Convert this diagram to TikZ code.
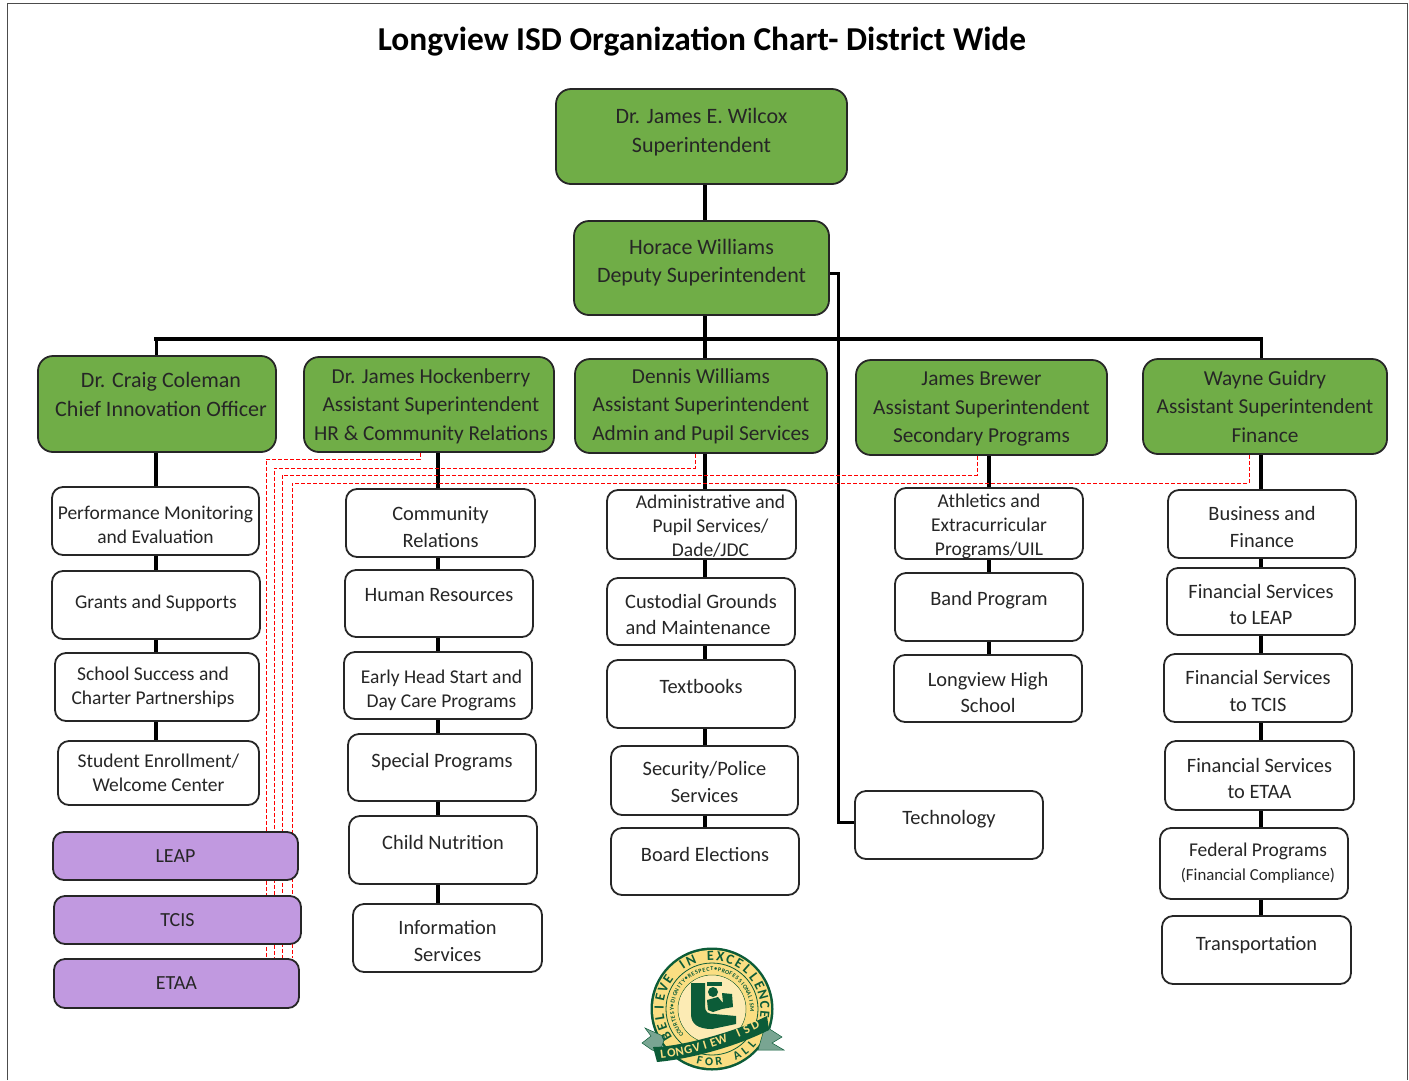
\documentclass[tikz,border=0pt]{standalone}
\usepackage{fontspec}
\setmainfont{Carlito}
\usetikzlibrary{backgrounds}
\definecolor{chiefgreen}{RGB}{112,173,71}
\definecolor{campuspurple}{RGB}{193,153,224}
\definecolor{sealgreen}{RGB}{12,92,56}
\definecolor{sealgold}{RGB}{250,222,130}
\newcommand{\up}[1]{\rule[-#1]{0pt}{0pt}}
\newcommand{\dn}[1]{\rule{0pt}{#1}}
\tikzset{
	orgbox/.style={draw=black!85,line width=1.8pt,rounded corners=11pt,align=center,inner sep=0pt,text=black!85},
	chief/.style={orgbox,fill=chiefgreen,rounded corners=15pt,font=\fontsize{22}{28.5}\selectfont},
	assistant/.style={chief,font=\fontsize{21.3}{28.5}\selectfont},
	dept/.style={orgbox,fill=white,font=\fontsize{20.4}{26.5}\selectfont},
	deptsmall/.style={orgbox,fill=white,font=\fontsize{19.5}{24}\selectfont},
	campus/.style={orgbox,fill=campuspurple,font=\fontsize{20}{26}\selectfont},
	trunk/.style={line width=4.5pt,black},
	drop/.style={line width=3pt,black},
	dotline/.style={red,dash pattern=on 4pt off 2pt,line width=0.9pt},
	sealletter/.style={inner sep=0pt,font=\fontsize{#1}{#1}\selectfont\bfseries},
}
\begin{document}
\begin{tikzpicture}[x=1pt,y=-1pt]
	\useasboundingbox (0,0) rectangle (1409,1080);
	% page frame
	\draw[black!70,line width=1pt] (7,1080) -- (7,3) -- (1407,3) -- (1407,1080);
	% title
	\node[font=\fontsize{33.4}{36}\selectfont\bfseries] (title) at (702,42) {Longview ISD Organization Chart- District Wide};
	% top of the district
	\node[chief,minimum width=291pt,minimum height=95pt] (wilcox) at (701.5,136.5) {Dr. James E. Wilcox\\Superintendent\up{12.5pt}};
	\node[chief,minimum width=255pt,minimum height=94pt] (horace) at (701.5,268) {Horace Williams\\Deputy Superintendent\up{14.5pt}};
	% assistant superintendents
	\node[chief,minimum width=238pt,minimum height=96pt] (coleman) at (157,404) {\hspace*{8pt}Dr. Craig Coleman\\\hspace*{8pt}Chief Innovation Officer\up{19pt}};
	\node[assistant,minimum width=250pt,minimum height=95pt] (hockenberry) at (429,404.5) {\hspace*{4pt}\dn{18pt}Dr. James Hockenberry\\\hspace*{4pt}Assistant Superintendent\\\hspace*{4pt}HR \& Community Relations};
	\node[assistant,minimum width=252pt,minimum height=94pt] (dennis) at (701,406) {Dennis Williams\\Assistant Superintendent\\Admin and Pupil Services};
	\node[assistant,minimum width=251pt,minimum height=95pt] (brewer) at (981.5,407.5) {\dn{17pt}James Brewer\\Assistant Superintendent\\Secondary Programs};
	\node[assistant,minimum width=244pt,minimum height=95pt] (guidry) at (1265,406.5) {Wayne Guidry\\Assistant Superintendent\\Finance};
	% first column
	\node[deptsmall,minimum width=207pt,minimum height=68pt] (perf) at (155.5,521) {\dn{21.5pt}Performance Monitoring\\and Evaluation};
	\node[deptsmall,minimum width=208pt,minimum height=68pt] (grants) at (156,605) {Grants and Supports\up{7pt}};
	\node[deptsmall,minimum width=204pt,minimum height=68pt] (success) at (157,687) {School Success and\hspace*{8pt}\\Charter Partnerships\hspace*{8pt}};
	\node[deptsmall,minimum width=201pt,minimum height=64pt] (enroll) at (158.5,773) {Student Enrollment/\\Welcome Center};
	\node[campus,minimum width=245pt,minimum height=48pt] (leap) at (175.5,856) {LEAP};
	\node[campus,minimum width=247pt,minimum height=48pt] (tcis) at (177.5,920) {TCIS};
	\node[campus,minimum width=245pt,minimum height=49pt] (etaa) at (176.5,983.5) {ETAA};
	% second column
	\node[dept,minimum width=189pt,minimum height=68pt] (community) at (440.5,523) {\dn{22pt}Community\\Relations};
	\node[dept,minimum width=188pt,minimum height=67pt] (hr) at (439,603.5) {Human Resources\up{17pt}};
	\node[deptsmall,minimum width=188pt,minimum height=67pt] (headstart) at (438,685.5) {\hspace*{7pt}\dn{23.5pt}Early Head Start and\\\hspace*{7pt}Day Care Programs};
	\node[dept,minimum width=188pt,minimum height=67pt] (special) at (442,767.5) {Special Programs\up{15pt}};
	\node[dept,minimum width=188pt,minimum height=68pt] (nutrition) at (443,850) {Child Nutrition\up{16pt}};
	\node[dept,minimum width=189pt,minimum height=68pt] (infoserv) at (447.5,938) {\dn{20pt}Information\\Services};
	% third column
	\node[deptsmall,minimum width=189pt,minimum height=69pt] (admin) at (701.5,524.5) {\hspace*{18pt}\dn{17.5pt}Administrative and\\\hspace*{18pt}Pupil Services/\\\hspace*{18pt}Dade/JDC};
	\node[dept,minimum width=188pt,minimum height=67pt] (grounds) at (701,611.5) {\dn{20pt}Custodial Grounds\\and Maintenance\hspace*{6pt}};
	\node[dept,minimum width=188pt,minimum height=68pt] (textbooks) at (701,694) {Textbooks\up{16pt}};
	\node[dept,minimum width=187pt,minimum height=69pt] (police) at (704.5,780.5) {\dn{17pt}Security/Police\\Services};
	\node[dept,minimum width=188pt,minimum height=67pt] (elections) at (705,861.5) {Board Elections\up{15pt}};
	% fourth column
	\node[deptsmall,minimum width=188pt,minimum height=71pt] (athletics) at (989,523.5) {\dn{19.5pt}Athletics and\\Extracurricular\\Programs/UIL};
	\node[dept,minimum width=188pt,minimum height=68pt] (band) at (989,607) {Band Program\up{17pt}};
	\node[dept,minimum width=188pt,minimum height=67pt] (highschool) at (988,688.5) {\dn{22pt}Longview High\\School};
	\node[dept,minimum width=188pt,minimum height=68pt] (technology) at (949,825) {Technology\up{16pt}};
	% fifth column
	\node[dept,minimum width=188pt,minimum height=68pt] (business) at (1262,524) {\dn{20pt}Business and\\Finance};
	\node[dept,minimum width=188pt,minimum height=67pt] (finleap) at (1261,601.5) {\dn{20pt}Financial Services\\to LEAP};
	\node[dept,minimum width=188pt,minimum height=68pt] (fintcis) at (1258,688) {\dn{20pt}Financial Services\\to TCIS};
	\node[dept,minimum width=189pt,minimum height=69pt] (finetaa) at (1259.5,775.5) {\dn{20pt}Financial Services\\to ETAA};
	\node[deptsmall,minimum width=188pt,minimum height=71pt] (federal) at (1254,863.5) {\hspace*{8pt}Federal Programs\\\hspace*{8pt}{\fontsize{16.8}{24}\selectfont (Financial Compliance)}};
	\node[dept,minimum width=189pt,minimum height=68pt] (transport) at (1256.5,950) {Transportation\up{14pt}};
	% where the trunks run
	\coordinate (trunkA) at (156,339);
	\coordinate (trunkB) at (438,339);
	\coordinate (trunkC) at (705,339);
	\coordinate (trunkD) at (989,339);
	\coordinate (trunkE) at (1261,339);
	\coordinate (techtop) at (838,273);
	\coordinate (techfoot) at (838,822);
	\coordinate (dotA) at (266,459);
	\coordinate (dotB) at (274,468);
	\coordinate (dotC) at (282,475);
	\coordinate (dotD) at (292,483);
	\coordinate (startA) at (420,459);
	\coordinate (startB) at (695,468);
	\coordinate (startC) at (977,475);
	\coordinate (startD) at (1249,483);
	\begin{pgfonlayer}{background}
		% black lines
		\draw[trunk] (wilcox.south -| trunkC) -- (horace.north -| trunkC);
		\draw[trunk] (horace.south -| trunkC) -- (dennis.north -| trunkC);
		\draw[trunk,line cap=rect] (trunkA) -- (trunkE);
		\draw[drop] (coleman.north -| trunkA) -- (trunkA);
		\draw[drop] (guidry.north -| trunkE) -- (trunkE);
		\foreach \a/\b in {coleman/perf,perf/grants,grants/success,success/enroll}
			\draw[trunk] (\a.south -| trunkA) -- (\b.north -| trunkA);
		\foreach \a/\b in {hockenberry/community,community/hr,hr/headstart,headstart/special,special/nutrition,nutrition/infoserv}
			\draw[trunk] (\a.south -| trunkB) -- (\b.north -| trunkB);
		\foreach \a/\b in {dennis/admin,admin/grounds,grounds/textbooks,textbooks/police,police/elections}
			\draw[trunk] (\a.south -| trunkC) -- (\b.north -| trunkC);
		\foreach \a/\b in {brewer/athletics,athletics/band,band/highschool}
			\draw[trunk] (\a.south -| trunkD) -- (\b.north -| trunkD);
		\foreach \a/\b in {guidry/business,business/finleap,finleap/fintcis,fintcis/finetaa,finetaa/federal,federal/transport}
			\draw[trunk] (\a.south -| trunkE) -- (\b.north -| trunkE);
		\draw[drop] (techtop -| horace.east) -- (techtop) -- (techfoot) -- (techfoot -| technology.west);
		% red dashed lines
		\draw[dotline] (hockenberry.south -| startA) -- (startA) -- (dotA) -- (etaa.north -| dotA);
		\draw[dotline] (dennis.south -| startB) -- (startB) -- (dotB) -- (etaa.north -| dotB);
		\draw[dotline] (brewer.south -| startC) -- (startC) -- (dotC) -- (etaa.north -| dotC);
		\draw[dotline] (guidry.south -| startD) -- (startD) -- (dotD) -- (etaa.north -| dotD);
	\end{pgfonlayer}
	% seal
	\fill[sealgreen] (712,1009) circle (61.5);
	\fill[sealgold] (712,1009) circle (59);
	\draw[sealgreen,line width=0.8pt] (712,1009) circle (46);
	\draw[sealgreen,line width=0.5pt] (712,1009) circle (34);
	\fill[white!40!sealgold] (712,1009) circle (33.5);
	\fill[sealgreen] (691,983) -- (705,983) -- (705,1006) .. controls (705,1012) and (708,1014) .. (714,1014) -- (736,1016) -- (736,1024) -- (712,1029) .. controls (698,1029) and (691,1024) .. (691,1014) -- cycle;
	\fill[sealgreen] (707,982) -- (722,982) -- (722,986) -- (707,986) -- cycle;
	\fill[sealgreen] (713,992) circle (5);
	\fill[sealgreen] (707,1000) -- (718,997) -- (723,1003) -- (722,993) -- (732,994) -- (733,1007) -- (722,1009) -- (713,1012) -- (708,1010) -- cycle;
	\fill[sealgreen!55!white,draw=sealgreen,line width=0.5pt] (645,1028) -- (665,1037) -- (660,1052) -- (652,1050) -- (642,1043) -- (651,1036) -- cycle;
	\fill[sealgreen!55!white,draw=sealgreen,line width=0.5pt] (765,1026) -- (782,1037) -- (772,1043) -- (784,1050) -- (758,1050) -- cycle;
	\fill[sealgreen] (653,1047) .. controls (680,1047) and (735,1032) .. (767,1016) -- (769,1030) .. controls (735,1047) and (690,1059) .. (657,1062) -- cycle;
	% seal lettering
	\foreach \ch [count=\i] in {B,E,L,I,E,V,E,{ },I,N,{ },E,X,C,E,L,L,E,N,C,E}
		\node[sealletter=14,text=sealgreen,rotate={131.85-10.85*\i}] (sealtop\i) at ({712+53*cos(221.85-10.85*\i)},{1009-53*sin(221.85-10.85*\i)}) {\ch};
	\foreach \ch [count=\i] in {C,O,U,R,T,E,S,Y,•,D,I,G,N,I,T,Y,•,R,E,S,P,E,C,T,•,P,R,O,F,E,S,S,I,O,N,A,L,I,S,M}
		\node[sealletter=6,text=sealgreen,rotate={135.64-5.64*\i}] (sealring\i) at ({712+40*cos(225.64-5.64*\i)},{1009-40*sin(225.64-5.64*\i)}) {\ch};
	\foreach \ch [count=\i] in {L,O,N,G,V,I,E,W,{ },I,S,D}
		\pgfmathsetmacro{\t}{(\i-1)/11}
		\node[sealletter=12.5,text=sealgold,rotate={atan((11+36*\t)/92)}] (sealband\i) at ({663+92*\t},{1054-11*\t-18*\t*\t}) {\ch};
	\foreach \ch [count=\i] in {F,O,R,{ },A,L,L}
		\node[sealletter=12,text=sealgreen,rotate={-13.5+10.4*(\i-1)}] (sealfoot\i) at ({712+53*cos(-103.5+10.4*(\i-1))},{1009-53*sin(-103.5+10.4*(\i-1))}) {\ch};
\end{tikzpicture}
\end{document}
